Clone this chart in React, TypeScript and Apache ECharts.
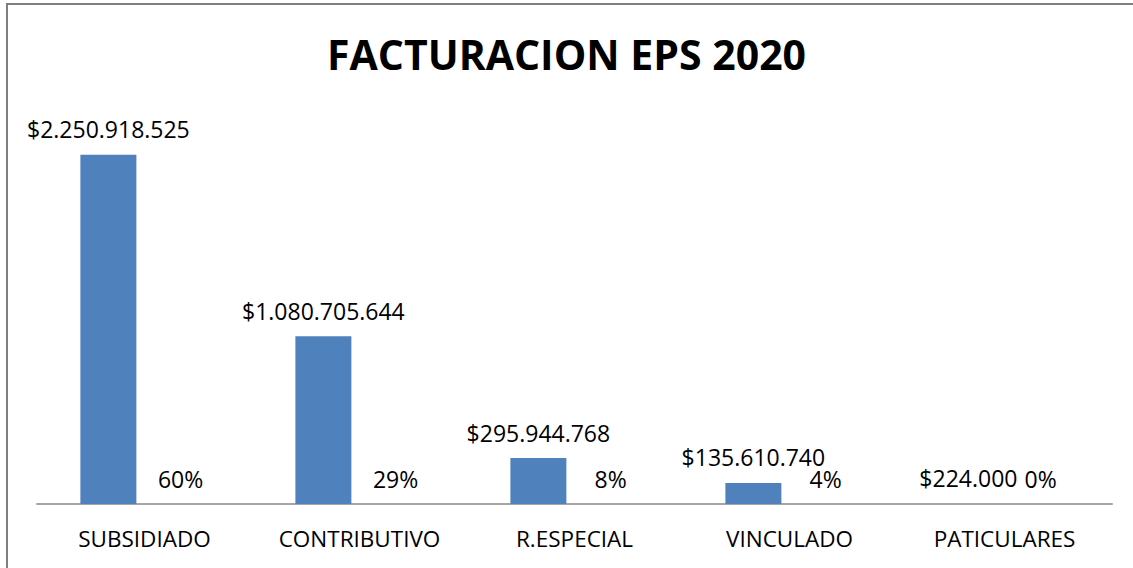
import React, { useEffect, useRef } from "react";
import * as echarts from "echarts";

const categories = ["SUBSIDIADO", "CONTRIBUTIVO", "R.ESPECIAL", "VINCULADO", "PATICULARES"];
const facturacion = [2250918525, 1080705644, 295944768, 135610740, 224000];
const porcentaje = [0.6, 0.29, 0.08, 0.04, 0.0];

const FONT = "'Open Sans', sans-serif";

function fmtMoney(v: number): string {
  const s = Math.round(v).toString();
  return "$" + s.replace(/\B(?=(\d{3})+(?!\d))/g, ".");
}

export default function App() {
  const ref = useRef<HTMLDivElement>(null);
  useEffect(() => {
    if (!ref.current) return;
    const chart = echarts.init(ref.current, null, { renderer: "svg" });
    chart.setOption({
      animation: false,
      backgroundColor: "#ffffff",
      title: {
        text: "FACTURACION EPS 2020",
        left: "center",
        top: 28,
        textStyle: { fontFamily: FONT, fontWeight: "bold", fontSize: 41, color: "#000000" },
      },
      graphic: [
        {
          type: "rect",
          shape: { x: 7, y: 4, width: 1200, height: 700 },
          style: { fill: "none", stroke: "#7f7f7f", lineWidth: 2 },
          silent: true,
          z: 0,
        },
      ],
      grid: { left: 37, right: 21, top: 116, bottom: 64 },
      xAxis: {
        type: "category",
        data: categories,
        axisLine: { show: true, lineStyle: { color: "#a6a6a6", width: 2 } },
        axisTick: { show: false },
        axisLabel: { fontFamily: FONT, fontSize: 22.5, color: "#000000", margin: 23 },
      },
      yAxis: {
        type: "value",
        min: 0,
        max: 2500000000,
        show: false,
        splitLine: { show: false },
      },
      series: [
        {
          type: "bar",
          data: facturacion,
          barWidth: 56,
          barGap: "29%",
          itemStyle: { color: "#4f81bd" },
          label: {
            show: true,
            position: "top",
            distance: 14,
            fontFamily: FONT,
            fontSize: 23,
            color: "#000000",
            formatter: (p: any) => fmtMoney(p.value),
          },
        },
        {
          type: "bar",
          data: porcentaje,
          barWidth: 56,
          itemStyle: { color: "#c0504d" },
          label: {
            show: true,
            position: "top",
            distance: 14,
            fontFamily: FONT,
            fontSize: 23,
            color: "#000000",
            formatter: (p: any) => Math.round(p.value * 100) + "%",
          },
        },
      ],
    });
    return () => chart.dispose();
  }, []);
  return (
    <div
      ref={ref}
      style={{ position: "fixed", left: 0, top: 0, width: 1133, height: 568 }}
    />
  );
}
